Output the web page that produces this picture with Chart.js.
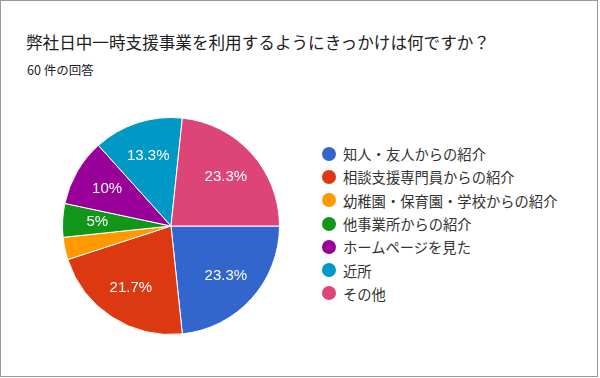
<!DOCTYPE html>
<html>
<head>
<meta charset="utf-8">
<script src="https://cdn.jsdelivr.net/npm/chart.js@4"></script>
<style>
  html, body { margin: 0; padding: 0; background: #fff; }
  body { width: 600px; height: 378px; position: relative; overflow: hidden;
    font-family: "Noto Sans CJK JP", "Noto Sans", sans-serif; color: #202124; }
  #frame { position: absolute; left: 0; top: 0; width: 598px; height: 377px;
    box-sizing: border-box; border: 1px solid #9a9a9a; }
  #title { position: absolute; left: 26px; top: 30px; font-size: 16.6px; line-height: 24px; color: #202124; }
  #sub { position: absolute; left: 27px; top: 61px; font-size: 12.5px; line-height: 18px; color: #202124; }
  #pieWrap { position: absolute; left: 50px; top: 105px; width: 242px; height: 242px; }
  #legend { position: absolute; left: 322px; top: 142px; margin: 0; padding: 0; list-style: none; }
  #legend li { height: 23.3px; display: flex; align-items: center; font-size: 14.3px; color: #333; white-space: nowrap; }
  #legend .dot { width: 14px; height: 14px; border-radius: 50%; margin-right: 7px; flex: none; }
</style>
</head>
<body>
<div id="frame"></div>
<div id="title">弊社日中一時支援事業を利用するようにきっかけは何ですか？</div>
<div id="sub">60 件の回答</div>
<div id="pieWrap"><canvas id="pie"></canvas></div>
<ul id="legend"></ul>
<script>
const labels = [
  '知人・友人からの紹介',
  '相談支援専門員からの紹介',
  '幼稚園・保育園・学校からの紹介',
  '他事業所からの紹介',
  'ホームページを見た',
  '近所',
  'その他'
];
const counts = [14, 13, 2, 3, 6, 8, 14];
const colors = ['#3366cc', '#dc3912', '#ff9900', '#109618', '#990099', '#0099c6', '#dd4477'];

const total = counts.reduce((a, b) => a + b, 0);

// percent labels inside slices, google-forms style (small slices skipped)
const sliceLabels = {
  id: 'sliceLabels',
  afterDatasetsDraw(chart) {
    const { ctx } = chart;
    const meta = chart.getDatasetMeta(0);
    ctx.save();
    ctx.fillStyle = '#fff';
    ctx.font = '15px "Liberation Sans", Arial, sans-serif';
    ctx.textAlign = 'center';
    ctx.textBaseline = 'middle';
    meta.data.forEach((arc, i) => {
      const pct = counts[i] / total * 100;
      if (pct < 4.5) return;
      const p = arc.getProps(['x', 'y', 'startAngle', 'endAngle', 'outerRadius'], true);
      const mid = (p.startAngle + p.endAngle) / 2;
      const r = p.outerRadius * 0.68;
      const txt = (Math.round(pct * 10) / 10) + '%';
      ctx.fillText(txt, p.x + Math.cos(mid) * r, p.y + Math.sin(mid) * r);
    });
    ctx.restore();
  }
};

new Chart(document.getElementById('pie'), {
  type: 'pie',
  data: {
    labels: labels,
    datasets: [{
      data: counts,
      backgroundColor: colors,
      borderColor: '#fff',
      borderWidth: 1
    }]
  },
  options: {
    responsive: true,
    maintainAspectRatio: false,
    animation: false,
    rotation: 90,
    layout: { padding: 12 },
    plugins: {
      legend: { display: false },
      tooltip: { enabled: false }
    }
  },
  plugins: [sliceLabels]
});

const legendEl = document.getElementById('legend');
labels.forEach((name, i) => {
  const li = document.createElement('li');
  const dot = document.createElement('span');
  dot.className = 'dot';
  dot.style.background = colors[i];
  li.appendChild(dot);
  li.appendChild(document.createTextNode(name));
  legendEl.appendChild(li);
});
</script>
</body>
</html>
